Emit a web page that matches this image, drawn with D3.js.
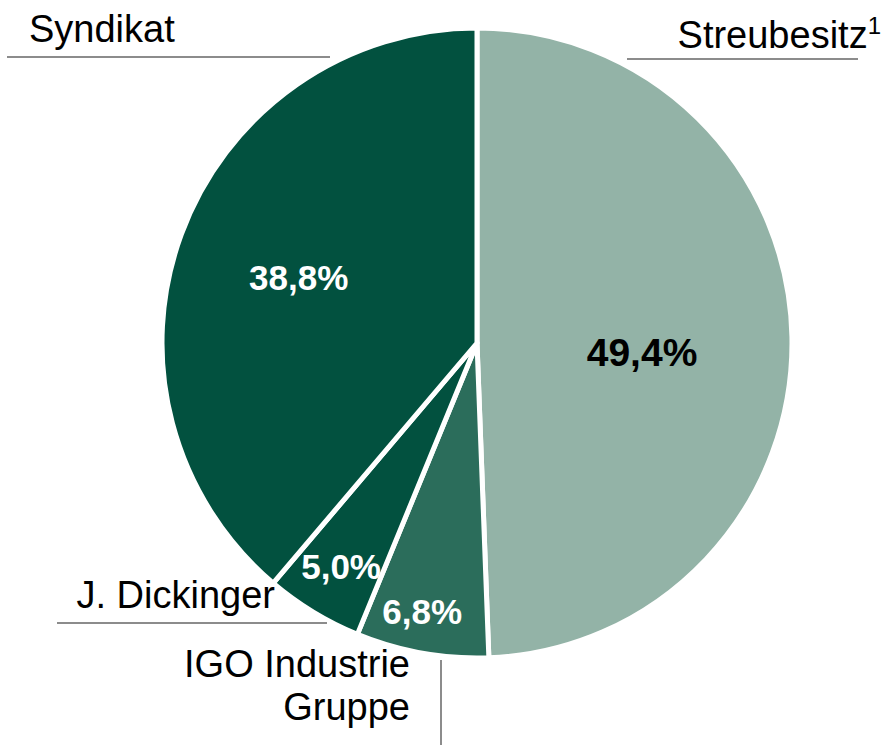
<!DOCTYPE html>
<html>
<head>
<meta charset="utf-8">
<script src="https://cdn.jsdelivr.net/npm/d3@7"></script>
<style>
  body { margin: 0; background: #fff; }
  text { font-family: "Liberation Sans", Arial, sans-serif; }
</style>
</head>
<body>
<svg id="chart" width="886" height="745"></svg>
<script>
// Data
const names = ["Streubesitz", "IGO Industrie Gruppe", "J. Dickinger", "Syndikat"]
const shares = [49.4, 6.8, 5.0, 38.8]
const valueLabels = ["49,4%", "6,8%", "5,0%", "38,8%"]
const colors = ["#93b3a7", "#2b6d5b", "#02513f", "#02513f"]
const labelColors = ["#000000", "#ffffff", "#ffffff", "#ffffff"]

const svg = d3.select("#chart")
const cx = 477, cy = 343, radius = 315

const pie = d3.pie().sort(null).value(d => d)
const arcs = pie(shares)
const arc = d3.arc().innerRadius(0).outerRadius(radius)

const g = svg.append("g").attr("transform", `translate(${cx},${cy})`)

g.selectAll("path")
    .data(arcs)
    .join("path")
    .attr("d", arc)
    .attr("fill", (d, i) => colors[i])
    .attr("stroke", "#fff")
    .attr("stroke-width", 5)
    .attr("stroke-linejoin", "round")

// value labels inside slices (radius fraction + small nudge per slice)
const labelRadius = [0.524, 0.867, 0.83, 0.603]
const labelNudge = [[0, 12], [-7, 0], [0, 0], [0, 0]]
const labelSize = [39, 35, 35, 35]
g.selectAll("text.val")
    .data(arcs)
    .join("text")
    .attr("class", "val")
    .attr("transform", (d, i) => {
        const a = (d.startAngle + d.endAngle) / 2
        const r = radius * labelRadius[i]
        return `translate(${Math.sin(a) * r + labelNudge[i][0]},${-Math.cos(a) * r + labelNudge[i][1]})`
    })
    .attr("text-anchor", "middle")
    .attr("dy", "0.36em")
    .attr("fill", (d, i) => labelColors[i])
    .style("font-size", (d, i) => labelSize[i] + "px")
    .style("font-weight", "bold")
    .text((d, i) => valueLabels[i])

// leader lines
const lineColor = "#8c8c8c"
const leaders = [
    [627, 59, 858, 59],
    [441, 660, 441, 745],
    [57, 623, 327, 623],
    [7, 57, 330, 57]
]
svg.selectAll("line.lead")
    .data(leaders)
    .join("line")
    .attr("class", "lead")
    .attr("x1", d => d[0]).attr("y1", d => d[1])
    .attr("x2", d => d[2]).attr("y2", d => d[3])
    .attr("stroke", lineColor)
    .attr("stroke-width", 2)

// category labels
const fs = 38
const streu = svg.append("text")
    .attr("x", 881).attr("y", 48)
    .attr("text-anchor", "end")
    .style("font-size", fs + "px")
streu.append("tspan").text("Streubesitz")
streu.append("tspan")
    .attr("dy", -14)
    .style("font-size", "24px")
    .text("1")

svg.append("text")
    .attr("x", 29).attr("y", 42)
    .style("font-size", fs + "px")
    .text(names[3])

svg.append("text")
    .attr("x", 275).attr("y", 608)
    .attr("text-anchor", "end")
    .style("font-size", fs + "px")
    .text(names[2])

const igo = svg.append("text")
    .attr("x", 410).attr("y", 677)
    .attr("text-anchor", "end")
    .style("font-size", fs + "px")
igo.append("tspan").attr("x", 410).text("IGO Industrie")
igo.append("tspan").attr("x", 410).attr("dy", 43).text("Gruppe")
</script>
</body>
</html>
